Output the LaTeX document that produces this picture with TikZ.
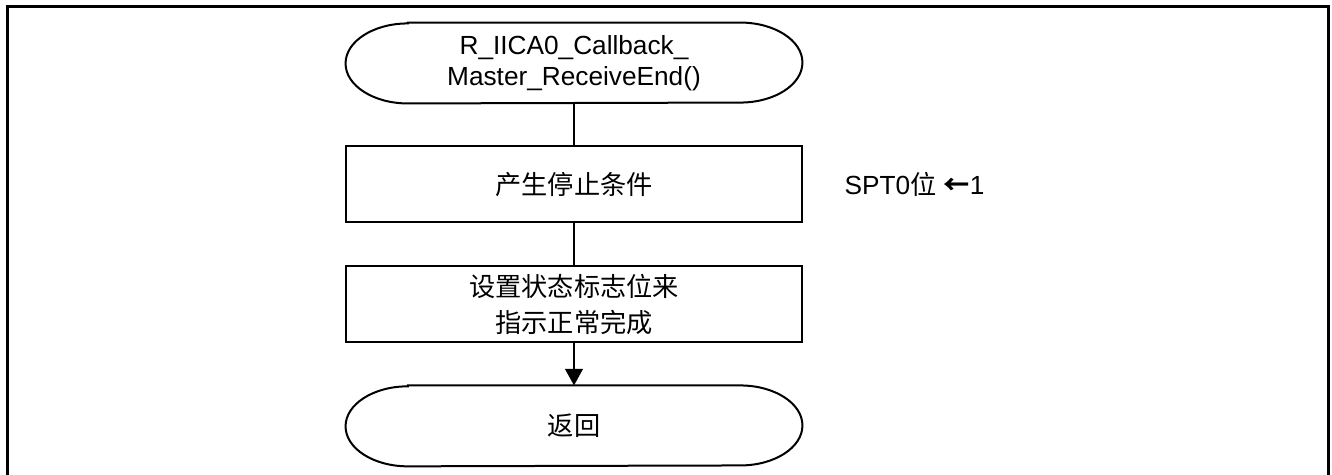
\documentclass[tikz,border=0pt]{standalone}
\usepackage{fontspec}
\setmainfont{Liberation Sans}
\newfontfamily\cjk{Noto Sans CJK SC}
\usetikzlibrary{positioning,arrows.meta}

\tikzset{
  flowline/.style={line width=0.9pt},
  proc/.style={draw, flowline, minimum width=205.2pt, minimum height=34.2pt, inner sep=1pt,
    align=center, font=\cjk\fontsize{11.8}{16}\selectfont},
  terminal/.style={minimum width=205.2pt, minimum height=36pt, inner sep=0pt, align=center,
    font=\fontsize{11.8}{14}\selectfont,
    append after command={\pgfextra{
      \draw[flowline] ([xshift=28pt]\tikzlastnode.north west) -- ([xshift=-28pt]\tikzlastnode.north east)
        arc[start angle=90, end angle=-90, x radius=28pt, y radius=18pt]
        -- ([xshift=28pt]\tikzlastnode.south west)
        arc[start angle=270, end angle=90, x radius=28pt, y radius=18pt] -- cycle;}}},
  note/.style={inner sep=0pt, anchor=west, font=\fontsize{11.8}{14}\selectfont}
}

\begin{document}
\begin{tikzpicture}[x=0.45pt, y=-0.45pt, node distance=18.9pt]
  \useasboundingbox (0,0) rectangle (1332,475);
  % frame
  \draw[line width=1.35pt] (7,475) -- (7,6) -- (1328,6) -- (1328,475);

  \node[terminal] (start) at (574,63) {R\_IICA0\_Callback\_\\Master\_ReceiveEnd()};
  \node[proc, below=of start] (stopcond) {产生停止条件};
  \node[proc, below=of stopcond] (setflag) {设置状态标志位来\\指示正常完成};
  \node[terminal, below=of setflag, font=\cjk\fontsize{11.8}{14}\selectfont] (ret) {返回};

  \node[note, right=18.5pt of stopcond] (spt) {SPT0{\cjk 位} {\cjk\bfseries ←}1};

  \draw[flowline] (start) -- (stopcond);
  \draw[flowline] (stopcond) -- (setflag);
  \draw[flowline, -{Triangle[width=8pt, length=7.5pt]}] (setflag) -- (ret);
\end{tikzpicture}
\end{document}
